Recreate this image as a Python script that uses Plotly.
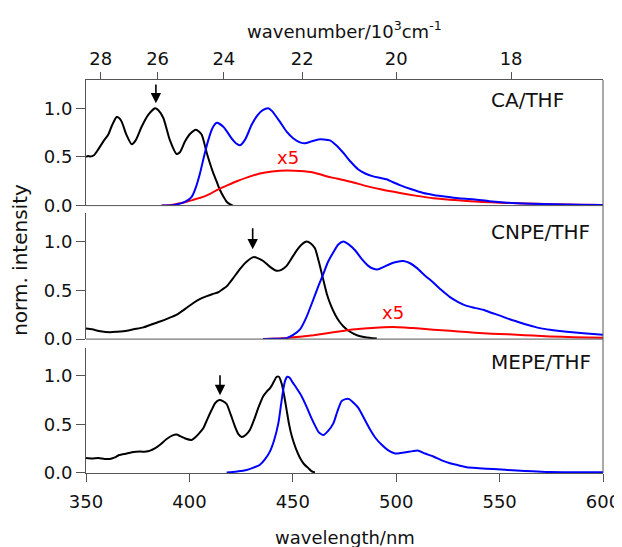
import plotly.graph_objects as go

# ---------------- data ----------------
ca_abs_wl = [350, 351, 352, 354, 356, 358.4, 360.8, 362.5, 364.8, 366, 367.3, 369.5, 372.1, 374, 376.9, 380, 383.4, 385, 387.4,
             390.6, 393.8, 395.5, 397.9, 400.5, 403.2, 405.9, 408.4, 410, 411.6, 413.3, 414.8, 416.5, 418, 419.5, 421]
ca_abs = [0.50, 0.51, 0.505, 0.52, 0.58, 0.66, 0.73, 0.82, 0.91, 0.90, 0.86, 0.73, 0.63, 0.67, 0.81, 0.93, 1.0, 0.98, 0.90,
          0.67, 0.53, 0.55, 0.66, 0.74, 0.78, 0.73, 0.54, 0.43, 0.33, 0.24, 0.16, 0.09, 0.04, 0.015, 0.0]

ca_em_wl = [386.6, 392, 395.5, 398.5, 401.1, 403, 405.1, 407, 409.1, 411, 413.2, 416.4, 418.5, 420.4, 422.5, 424.5, 427, 430.1,
            433, 435.5, 438.2, 440, 443.8, 447, 450.3, 453.5, 455.9, 459, 462.3, 465, 468, 471, 474.5, 478, 481.7, 485, 488.9,
            492, 495.4, 498.5, 501.8, 507, 513.1, 518, 524.4, 530, 537.3, 545, 553.4, 565, 576, 588, 600]
ca_em = [0, 0.005, 0.02, 0.045, 0.09, 0.18, 0.33, 0.50, 0.67, 0.79, 0.85, 0.81, 0.75, 0.69, 0.64, 0.62, 0.68, 0.83,
         0.93, 0.98, 1.0, 0.97, 0.86, 0.76, 0.69, 0.65, 0.64, 0.66, 0.68, 0.68, 0.67, 0.62, 0.54, 0.45, 0.37, 0.33, 0.30,
         0.285, 0.27, 0.24, 0.21, 0.17, 0.13, 0.11, 0.09, 0.075, 0.065, 0.045, 0.03, 0.02, 0.015, 0.008, 0.005]

ca_x5_wl = [386.6, 392, 398.7, 402, 406.7, 410, 413.2, 418, 422.9, 428, 434.1, 440, 447, 453.5, 459.9, 465, 469.6, 472.8,
            478, 485.7, 493, 501.8, 510, 518, 526, 534, 542, 550, 562, 575, 588, 600]
ca_x5 = [0, 0.01, 0.04, 0.06, 0.09, 0.12, 0.16, 0.205, 0.25, 0.29, 0.33, 0.35, 0.36, 0.355, 0.34, 0.31, 0.285, 0.27,
         0.245, 0.20, 0.165, 0.13, 0.10, 0.075, 0.06, 0.048, 0.038, 0.03, 0.022, 0.015, 0.009, 0.005]

cnpe_abs_wl = [350, 353, 357, 361.6, 365, 369.7, 373, 377.7, 381, 385.8, 390, 393.9, 398, 401.9, 405, 408.4, 411, 414, 416,
               418, 421, 424.5, 427.5, 430.9, 433, 435.7, 439, 442.2, 444.5, 447, 449.5, 451.9, 454.3, 456.7, 458.7,
               460.7, 462.5, 464.5, 466.5, 468.5, 470.5, 472.5, 474.5, 477.7, 481, 485, 490.6]
cnpe_abs = [0.11, 0.10, 0.08, 0.07, 0.075, 0.085, 0.10, 0.12, 0.145, 0.18, 0.215, 0.25, 0.31, 0.37, 0.41, 0.44, 0.46, 0.48,
            0.51, 0.54, 0.62, 0.72, 0.79, 0.84, 0.83, 0.80, 0.74, 0.70, 0.71, 0.75, 0.83, 0.91, 0.97, 1.0, 0.98,
            0.93, 0.80, 0.63, 0.46, 0.34, 0.25, 0.18, 0.13, 0.075, 0.04, 0.02, 0.005]

cnpe_em_wl = [435.7, 441, 447, 450, 453.5, 456.5, 460, 462.5, 464.8, 467, 469.6, 472, 474.5, 477, 480.1, 483, 486.5, 489,
              491.3, 494, 497, 500, 503.4, 506.5, 509.9, 514, 517.9, 522, 526, 530, 534.1, 538, 542.1, 546, 550.2, 554,
              558.3, 562, 566.3, 570, 574.4, 578, 582.4, 590.5, 600]
cnpe_em = [0, 0.003, 0.01, 0.04, 0.10, 0.22, 0.41, 0.55, 0.67, 0.79, 0.89, 0.97, 1.0, 0.97, 0.91, 0.83, 0.75, 0.72,
           0.715, 0.74, 0.77, 0.79, 0.80, 0.78, 0.73, 0.65, 0.58, 0.50, 0.43, 0.38, 0.34, 0.32, 0.30, 0.27, 0.24, 0.21,
           0.18, 0.155, 0.13, 0.11, 0.095, 0.085, 0.075, 0.06, 0.045]

cnpe_x5_wl = [435.7, 445, 453.5, 460, 465, 469.6, 475, 480, 485.7, 492, 498.6, 504, 509.9, 518, 526, 534, 542.1, 550,
              558.3, 566, 574.4, 586, 600]
cnpe_x5 = [0, 0.008, 0.025, 0.04, 0.055, 0.07, 0.085, 0.10, 0.11, 0.12, 0.125, 0.12, 0.11, 0.097, 0.085, 0.072, 0.06,
           0.052, 0.045, 0.036, 0.027, 0.02, 0.015]

mepe_abs_wl = [350, 353, 356, 359, 361.6, 364, 366, 369.7, 373, 376.1, 379, 381, 383.5, 385.8, 389, 392.2, 393.8, 395.5,
               398, 401.1, 403, 404.8, 406.7, 408.8, 410.8, 412.5, 414.5, 416.2, 418, 420, 422, 423.7, 425.3, 427.2,
               429.3, 431.5, 433.5, 435.7, 437.5, 438.9, 440.6, 442.2, 443.3, 444.6, 445.8, 447, 448.2, 449.5, 451.5,
               453.5, 455.5, 457.5, 459, 460.7]
mepe_abs = [0.155, 0.15, 0.155, 0.145, 0.145, 0.16, 0.185, 0.2, 0.215, 0.22, 0.22, 0.23, 0.255, 0.29, 0.35, 0.39, 0.395,
            0.38, 0.355, 0.34, 0.37, 0.41, 0.46, 0.56, 0.65, 0.72, 0.75, 0.74, 0.71, 0.60, 0.48, 0.40, 0.37, 0.39,
            0.445, 0.56, 0.68, 0.79, 0.84, 0.87, 0.93, 0.99, 0.99, 0.92, 0.80, 0.65, 0.50, 0.38, 0.25,
            0.155, 0.09, 0.05, 0.02, 0.005]

mepe_em_wl = [418, 423, 427.7, 431, 434.1, 436.5, 438.9, 441, 443, 444.3, 445.4, 446.3, 447.3, 448.5, 450, 451.9, 454,
              456.7, 458.7, 460.7, 462.5, 464.8, 467, 469.6, 471.5, 473.6, 475.5, 477.3, 479.5, 481.7, 484.5, 487.3,
              490, 493, 496, 499.4, 502, 505.1, 508, 510.7, 514, 518, 522, 526, 530, 534.1, 540, 547, 558.3, 566,
              574.4, 586, 600]
mepe_em = [0.005, 0.015, 0.03, 0.055, 0.085, 0.14, 0.22, 0.34, 0.51, 0.70, 0.86, 0.95, 0.99, 0.98, 0.93, 0.87, 0.80,
           0.68, 0.58, 0.49, 0.42, 0.39, 0.43, 0.51, 0.63, 0.74, 0.76, 0.76, 0.72, 0.67, 0.56, 0.45,
           0.36, 0.29, 0.235, 0.20, 0.205, 0.215, 0.225, 0.23, 0.20, 0.17, 0.13, 0.10, 0.08, 0.06, 0.05, 0.04, 0.025, 0.018,
           0.01, 0.008, 0.007]

panel_names = ["CA/THF", "CNPE/THF", "MEPE/THF"]
wavelength_ticks = [350, 400, 450, 500, 550, 600]
wavenumber_ticks = [28, 26, 24, 22, 20, 18]          # 10^3 cm^-1
arrow_wl = [383.8, 430.6, 414.8]
arrow_tip = [1.05, 0.92, 0.80]
arrow_tail = [1.26, 1.15, 1.02]
x5_pos = [(447.7, 0.49), (498.5, 0.27)]

# ---------------- figure ----------------
FONT = "DejaVu Sans"
AX = "#555555"
OFF = 8  # the page body adds an 8 px offset; shrink the figure and compensate in the margins
W, HT = 622 - OFF, 547 - OFF
fig = go.Figure()

panels = [
    ("y", [(ca_abs_wl, ca_abs, "black"), (ca_x5_wl, ca_x5, "#ff0000"), (ca_em_wl, ca_em, "#0000ff")]),
    ("y2", [(cnpe_abs_wl, cnpe_abs, "black"), (cnpe_x5_wl, cnpe_x5, "#ff0000"), (cnpe_em_wl, cnpe_em, "#0000ff")]),
    ("y3", [(mepe_abs_wl, mepe_abs, "black"), (mepe_em_wl, mepe_em, "#0000ff")]),
]
for yref, series in panels:
    for xs, ys, col in series:
        fig.add_trace(go.Scatter(x=xs, y=ys, mode="lines", xaxis="x", yaxis=yref,
                                 line=dict(color=col, width=2, shape="spline", smoothing=0.6),
                                 showlegend=False, hoverinfo="skip"))

fig.add_trace(go.Scatter(x=[None], y=[None], xaxis="x2", yaxis="y", showlegend=False, hoverinfo="skip"))

# target page pixels: plot area left 86, right 603, top 80, bottom 473.3
L, R, T, B = 86, 603, 80, 473.3
H = B - T
def dom(top_px, bot_px):
    return [(B - bot_px) / H, (B - top_px) / H]
def py(px):
    return (B - px) / H
def px_x(px):
    return (px - L) / (R - L)

yrng = [0, 1.29]
yax = dict(range=yrng, tickvals=[0, 0.5, 1.0], ticktext=["0.0", "0.5", "1.0"], ticks="outside", ticklen=9,
           tickcolor=AX, tickwidth=1, showline=True, linecolor=AX, linewidth=1, showgrid=False, zeroline=False,
           tickfont=dict(family=FONT, size=18, color="#111"), fixedrange=True, automargin=False)

fig.update_layout(
    template="none",
    width=W, height=HT,
    margin=dict(l=L - OFF, r=W - (R - OFF), t=T - OFF, b=HT - (B - OFF), pad=0),
    plot_bgcolor="white", paper_bgcolor="white",
    xaxis=dict(domain=[0, 1], range=[350, 600], anchor="y3", tickvals=wavelength_ticks, ticks="outside", ticklen=8,
               tickcolor=AX, showline=True, linecolor=AX, linewidth=1, showgrid=False, zeroline=False,
               tickfont=dict(family=FONT, size=18, color="#111"), automargin=False, ticklabelstandoff=4),
    xaxis2=dict(overlaying="x", side="top", anchor="y", range=[350, 600],
                tickvals=[1e4 / k for k in wavenumber_ticks], ticktext=[str(k) for k in wavenumber_ticks],
                ticks="outside", ticklen=7, tickcolor=AX, showline=True, linecolor=AX, linewidth=1,
                showgrid=False, zeroline=False, tickfont=dict(family=FONT, size=18, color="#111"),
                automargin=False),
    yaxis=dict(domain=dom(80, 205.7), anchor="x", **yax),
    yaxis2=dict(domain=dom(213.3, 339.3), anchor="x", **yax),
    yaxis3=dict(domain=dom(347.8, 473.3), anchor="x", **yax),
)

shapes = []
for yr in ["y", "y2"]:
    shapes.append(dict(type="line", xref="x domain", yref=yr + " domain", x0=0, x1=1, y0=0, y1=0,
                       line=dict(color=AX, width=1)))
shapes.append(dict(type="line", xref="paper", yref="paper", x0=1, x1=1, y0=0, y1=1, line=dict(color=AX, width=1)))
fig.update_layout(shapes=shapes)

ann = []
label_y = [1.085, 1.10, 1.14]
for i, (yr, name) in enumerate(zip(["y", "y2", "y3"], panel_names)):
    ann.append(dict(x=545, y=label_y[i], xref="x", yref=yr, text=name, showarrow=False, xanchor="left",
                    yanchor="middle", font=dict(family=FONT, size=20, color="#111")))
    ann.append(dict(x=arrow_wl[i], y=arrow_tip[i], ax=arrow_wl[i], ay=arrow_tail[i], xref="x", yref=yr,
                    axref="x", ayref=yr, showarrow=True, arrowhead=2, arrowsize=1.3, arrowwidth=1.6,
                    arrowcolor="black", standoff=0, text=""))
for (wx, wy), yr in zip(x5_pos, ["y", "y2"]):
    ann.append(dict(x=wx, y=wy, xref="x", yref=yr, text="x5", showarrow=False, xanchor="center",
                    yanchor="middle", font=dict(family=FONT, size=18, color="#ff0000")))
ann.append(dict(x=0.5, y=py(30), xref="paper", yref="paper", xanchor="center", yanchor="middle",
                text="wavenumber/10<sup>3</sup>cm<sup>-1</sup>", showarrow=False,
                font=dict(family=FONT, size=18, color="#111")))
ann.append(dict(x=0.5, y=py(538), xref="paper", yref="paper", xanchor="center", yanchor="middle",
                text="wavelength/nm", showarrow=False, font=dict(family=FONT, size=18, color="#111")))
ann.append(dict(x=px_x(20), y=py(260), xref="paper", yref="paper", xanchor="center", yanchor="middle",
                text="norm. intensity", textangle=-90, showarrow=False,
                font=dict(family=FONT, size=20, color="#111")))
fig.update_layout(annotations=ann)

fig.write_html("out.html")
